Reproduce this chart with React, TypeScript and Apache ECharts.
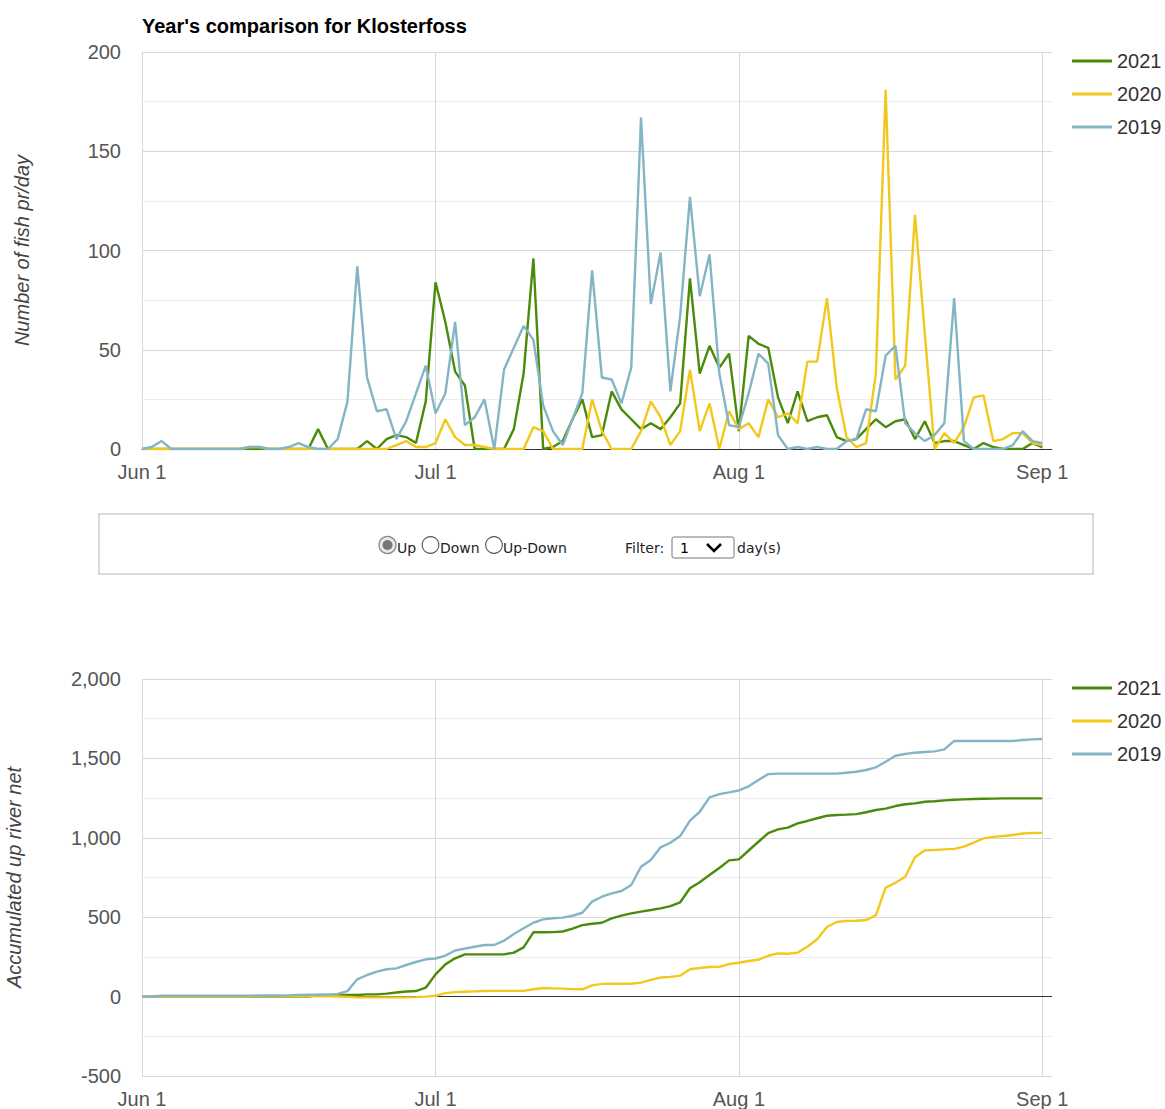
import React, { useEffect, useRef } from 'react';
import * as echarts from 'echarts';

const FONT = '"Liberation Sans", Arial, sans-serif';
const FORM_FONT = '"DejaVu Sans", Verdana, sans-serif';

const TITLE = "Year's comparison for Klosterfoss";
const YEARS = ['2021', '2020', '2019'];
const COLORS = ['#4b8b0b', '#f2c81c', '#83b5c5'];

// month name and number of days shown on the axis (Jun 1 .. Sep 2)
const MONTHS: [string, number][] = [['Jun', 30], ['Jul', 31], ['Aug', 31], ['Sep', 2]];
const TICK_INDEX = [0, 30, 61, 92];

const DAY_LABELS: string[] = [];
MONTHS.forEach(([m, n]) => {
  for (let d = 1; d <= n; d++) DAY_LABELS.push(`${m} ${d}`);
});

// Number of fish per day (Jun 1 .. Sep 1)
const DAILY_2021 = [
  0, 0, 0, 0, 0, 0, 0, 0, 0, 0,
  0, 0, 0, 0, 0, 0, 0, 0, 10, 0,
  0, 0, 0, 4, 0, 5, 7, 6, 3, 24,
  84, 64, 39, 32, 0, 0, 0, 0, 10, 38,
  96, 0, 1, 4, 15, 25, 6, 7, 29, 20,
  15, 10, 13, 10, 16, 23, 86, 38, 52, 41,
  48, 9, 57, 53, 51, 26, 13, 29, 14, 16,
  17, 6, 4, 5, 10, 15, 11, 14, 15, 5,
  14, 3, 4, 4, 2, 0, 3, 1, 0, 0,
  0, 3, 1,
];
const DAILY_2020 = [
  0, 0, 0, 0, 0, 0, 0, 0, 0, 0,
  0, 1, 1, 0, 0, 0, 0, 0, 0, 0,
  0, 0, 0, 0, 0, 0, 2, 4, 1, 1,
  3, 15, 6, 2, 2, 1, 0, 0, 0, 0,
  11, 9, 0, 0, 0, 0, 25, 9, 0, 0,
  0, 9, 24, 16, 2, 9, 40, 9, 23, 0,
  19, 10, 13, 6, 25, 16, 18, 13, 44, 44,
  76, 31, 6, 1, 3, 38, 181, 35, 42, 118,
  58, 0, 8, 3, 11, 26, 27, 4, 5, 8,
  8, 3, 2,
];
const DAILY_2019 = [
  0, 1, 4, 0, 0, 0, 0, 0, 0, 0,
  0, 1, 1, 0, 0, 1, 3, 1, 0, 0,
  5, 24, 92, 36, 19, 20, 5, 14, 28, 42,
  18, 28, 64, 12, 16, 25, 0, 40, 51, 62,
  55, 22, 9, 2, 15, 28, 90, 36, 35, 23,
  41, 167, 73, 99, 29, 67, 127, 77, 98, 38,
  12, 11, 28, 48, 43, 7, 0, 1, 0, 1,
  0, 0, 4, 5, 20, 19, 47, 52, 13, 8,
  4, 7, 13, 76, 4, 0, 0, 0, 0, 2,
  9, 4, 3,
];

// Accumulated up river net
const ACC_2021 = [
  0, 0, 0, 0, 0, 0, 0, 0, 0, 0,
  0, 0, 0, 0, 0, 0, 0, 0, 10, 10,
  10, 10, 10, 14, 14, 19, 26, 32, 35, 56,
  140, 203, 241, 266, 266, 266, 266, 266, 277, 310,
  405, 405, 406, 410, 428, 450, 459, 465, 493, 510,
  524, 535, 545, 556, 570, 594, 682, 720, 766, 810,
  858, 864, 920, 975, 1030, 1053, 1064, 1091, 1106, 1123,
  1139, 1144, 1146, 1149, 1161, 1175, 1184, 1200, 1211, 1217,
  1227, 1230, 1236, 1240, 1242, 1244, 1246, 1247, 1248, 1248,
  1248, 1248, 1248,
];
const ACC_2020 = [
  0, 0, 0, 0, 0, 0, 0, 0, 0, 0,
  0, 1, 2, 2, 2, 2, 2, 2, 2, 2,
  1, -2, -5, -5, -5, -5, -5, -5, -3, 0,
  5, 22, 28, 31, 33, 35, 36, 36, 36, 36,
  46, 54, 52, 50, 47, 46, 71, 80, 81, 81,
  81, 88, 105, 120, 124, 132, 172, 180, 186, 188,
  205, 213, 224, 232, 257, 272, 270, 277, 314, 361,
  438, 470, 477, 478, 482, 512, 686, 717, 755, 877,
  921, 923, 927, 930, 944, 969, 996, 1006, 1011, 1018,
  1027, 1030, 1031,
];
const ACC_2019 = [
  0, 1, 5, 5, 5, 5, 5, 5, 5, 5,
  5, 6, 7, 7, 7, 8, 11, 12, 12, 12,
  17, 35, 109, 136, 157, 172, 178, 199, 218, 235,
  240, 258, 290, 302, 314, 325, 325, 352, 394, 430,
  465, 486, 493, 497, 509, 528, 598, 629, 650, 665,
  703, 818, 860, 940, 969, 1011, 1108, 1164, 1255, 1275,
  1286, 1298, 1324, 1364, 1401, 1404, 1404, 1404, 1404, 1404,
  1404, 1404, 1410, 1416, 1427, 1444, 1479, 1517, 1528, 1536,
  1540, 1544, 1557, 1610, 1610, 1610, 1610, 1610, 1610, 1610,
  1616, 1620, 1622,
];

const DAILY = [DAILY_2021, DAILY_2020, DAILY_2019];
const ACC = [ACC_2021, ACC_2020, ACC_2019];

const TOP_Y = { min: 0, max: 200, interval: 50, name: 'Number of fish pr/day' };
const BOTTOM_Y = { min: -500, max: 2000, interval: 500, name: 'Accumulated up river net' };

const isMonthTick = (idx: number) => TICK_INDEX.indexOf(idx) >= 0;

function buildOption() {
  const grids = [
    { left: 142, top: 52, width: 910, height: 397, outerBoundsMode: 'none', containLabel: false },
    { left: 142, top: 679, width: 910, height: 397, outerBoundsMode: 'none', containLabel: false },
  ];
  const xAxes = [0, 1].map((i) => ({
    type: 'category',
    gridIndex: i,
    data: DAY_LABELS,
    boundaryGap: false,
    axisTick: { show: false },
    axisLine:
      i === 0
        ? { show: true, lineStyle: { color: '#333', width: 1 } }
        : { show: true, onZero: false, lineStyle: { color: '#d8d8d8', width: 1 } },
    axisLabel: {
      interval: (idx: number) => isMonthTick(idx),
      fontSize: 20,
      color: '#555',
      fontFamily: FONT,
      margin: 13,
    },
    splitLine: {
      show: true,
      interval: (idx: number) => isMonthTick(idx),
      lineStyle: { color: '#d8d8d8', width: 1 },
    },
  }));
  const yAxes = [TOP_Y, BOTTOM_Y].map((ax, i) => ({
    type: 'value',
    gridIndex: i,
    min: ax.min,
    max: ax.max,
    interval: ax.interval,
    name: ax.name,
    nameLocation: 'middle',
    nameRotate: 90,
    nameGap: i === 0 ? 110 : 118,
    nameTextStyle: { fontSize: 20, fontStyle: 'italic', color: '#444', fontFamily: FONT },
    axisLine: { show: false },
    axisTick: { show: false },
    axisLabel: {
      fontSize: 20,
      color: '#555',
      fontFamily: FONT,
      margin: 21,
      formatter: (v: number) => v.toLocaleString('en-US'),
    },
    splitLine: { show: true, lineStyle: { color: '#d8d8d8', width: 1 } },
    minorTick: { show: false, splitNumber: 2 },
    minorSplitLine: { show: true, lineStyle: { color: '#ededed', width: 1 } },
  }));

  const series: any[] = [];
  YEARS.forEach((y, k) => {
    series.push({
      name: y,
      type: 'line',
      xAxisIndex: 0,
      yAxisIndex: 0,
      data: DAILY[k],
      symbol: 'none',
      lineStyle: { width: 2.4, color: COLORS[k] },
      itemStyle: { color: COLORS[k] },
      z: 3 + k,
    });
  });
  YEARS.forEach((y, k) => {
    const s: any = {
      name: y,
      type: 'line',
      xAxisIndex: 1,
      yAxisIndex: 1,
      data: ACC[k],
      symbol: 'none',
      lineStyle: { width: 2.4, color: COLORS[k] },
      itemStyle: { color: COLORS[k] },
      z: 3 + k,
    };
    if (k === 0) {
      s.markLine = {
        silent: true,
        symbol: 'none',
        label: { show: false },
        lineStyle: { color: '#333', width: 1, type: 'solid' },
        data: [{ yAxis: 0 }],
        z: 2,
      };
    }
    series.push(s);
  });

  const legendBase = {
    orient: 'vertical',
    left: 1067,
    itemWidth: 40,
    itemHeight: 3,
    itemGap: 13,
    icon: 'rect',
    selectedMode: false,
    data: YEARS,
    textStyle: { fontSize: 20, color: '#333', fontFamily: FONT },
  };

  const radioY = 545;
  const txtY = 548;
  const graphic: any[] = [
    {
      type: 'rect',
      shape: { x: 99, y: 514, width: 994, height: 60 },
      style: { fill: '#fff', stroke: '#cfcfcf', lineWidth: 1.5 },
    },
    // radio: Up (checked)
    { type: 'circle', shape: { cx: 387.5, cy: radioY, r: 8.5 }, style: { fill: '#e8e8e8', stroke: '#8a8a8a', lineWidth: 1.3 } },
    { type: 'circle', shape: { cx: 387.5, cy: radioY, r: 5 }, style: { fill: '#777' } },
    { type: 'text', x: 397, y: txtY, style: { text: 'Up', fontSize: 14, fontFamily: FORM_FONT, fill: '#222', verticalAlign: 'middle' } },
    // radio: Down
    { type: 'circle', shape: { cx: 430.5, cy: radioY, r: 8.3 }, style: { fill: '#fff', stroke: '#555', lineWidth: 1.1 } },
    { type: 'text', x: 440, y: txtY, style: { text: 'Down', fontSize: 14, fontFamily: FORM_FONT, fill: '#222', verticalAlign: 'middle' } },
    // radio: Up-Down
    { type: 'circle', shape: { cx: 494, cy: radioY, r: 8.3 }, style: { fill: '#fff', stroke: '#555', lineWidth: 1.1 } },
    { type: 'text', x: 503, y: txtY, style: { text: 'Up-Down', fontSize: 14, fontFamily: FORM_FONT, fill: '#222', verticalAlign: 'middle' } },
    // filter select
    { type: 'text', x: 625, y: txtY, style: { text: 'Filter:', fontSize: 14, fontFamily: FORM_FONT, fill: '#222', verticalAlign: 'middle' } },
    {
      type: 'rect',
      shape: { x: 672, y: 537, width: 62, height: 21, r: 2 },
      style: { fill: '#fff', stroke: '#767676', lineWidth: 1 },
    },
    { type: 'text', x: 680, y: txtY, style: { text: '1', fontSize: 14, fontFamily: FORM_FONT, fill: '#000', verticalAlign: 'middle' } },
    {
      type: 'polyline',
      shape: { points: [[707, 544], [714, 551], [721, 544]] },
      style: { stroke: '#000', lineWidth: 2.5, fill: 'none' },
    },
    { type: 'text', x: 737, y: txtY, style: { text: 'day(s)', fontSize: 14, fontFamily: FORM_FONT, fill: '#222', verticalAlign: 'middle' } },
  ];

  return {
    animation: false,
    backgroundColor: '#fff',
    textStyle: { fontFamily: FONT },
    title: {
      text: TITLE,
      left: 142,
      top: 16,
      padding: 0,
      textStyle: { fontSize: 20, fontWeight: 'bold', color: '#000', fontFamily: FONT },
    },
    legend: [
      { ...legendBase, top: 46 },
      { ...legendBase, top: 673 },
    ],
    grid: grids,
    xAxis: xAxes,
    yAxis: yAxes,
    series,
    graphic,
  };
}

export default function App() {
  const ref = useRef<HTMLDivElement>(null);
  useEffect(() => {
    if (!ref.current) return;
    const chart = echarts.init(ref.current, null, { renderer: 'svg' });
    chart.setOption(buildOption() as any);
    return () => chart.dispose();
  }, []);
  return (
    <div
      ref={ref}
      style={{ position: 'absolute', left: 0, top: 0, width: 1165, height: 1109 }}
    />
  );
}
